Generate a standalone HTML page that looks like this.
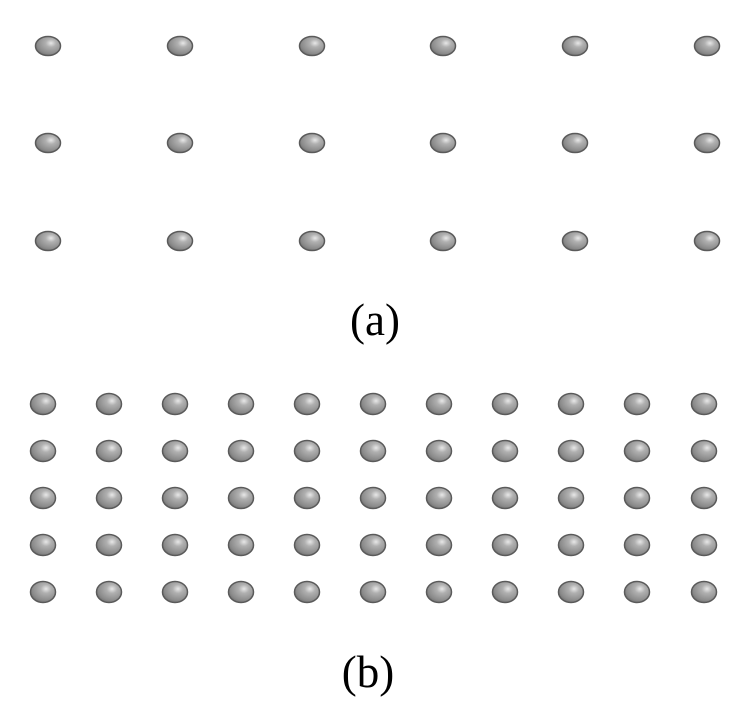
<!DOCTYPE html>
<html><head><style>html,body{margin:0;padding:0;background:#fff}svg{display:block}</style></head>
<body>
<svg width="752" height="710" viewBox="0 0 752 710" xmlns="http://www.w3.org/2000/svg">
<defs>
<radialGradient id="g" cx="0.62" cy="0.35" r="0.7">
<stop offset="0" stop-color="#e8e8e8"/>
<stop offset="0.3" stop-color="#b0b0b0"/>
<stop offset="0.8" stop-color="#8a8a8a"/>
<stop offset="1" stop-color="#707070"/>
</radialGradient>
</defs>
<text x="375" y="335" font-family="Liberation Serif, serif" font-size="45" text-anchor="middle">(a)</text>
<text x="368" y="687" font-family="Liberation Serif, serif" font-size="45" text-anchor="middle">(b)</text>
<g fill="url(#g)" stroke="#5a5a5a" stroke-width="1.5">
<ellipse cx="48" cy="46" rx="12.5" ry="9.5"/><ellipse cx="180" cy="46" rx="12.5" ry="9.5"/><ellipse cx="312" cy="46" rx="12.5" ry="9.5"/><ellipse cx="443" cy="46" rx="12.5" ry="9.5"/><ellipse cx="575" cy="46" rx="12.5" ry="9.5"/><ellipse cx="707" cy="46" rx="12.5" ry="9.5"/>
<ellipse cx="48" cy="143" rx="12.5" ry="9.5"/><ellipse cx="180" cy="143" rx="12.5" ry="9.5"/><ellipse cx="312" cy="143" rx="12.5" ry="9.5"/><ellipse cx="443" cy="143" rx="12.5" ry="9.5"/><ellipse cx="575" cy="143" rx="12.5" ry="9.5"/><ellipse cx="707" cy="143" rx="12.5" ry="9.5"/>
<ellipse cx="48" cy="241" rx="12.5" ry="9.5"/><ellipse cx="180" cy="241" rx="12.5" ry="9.5"/><ellipse cx="312" cy="241" rx="12.5" ry="9.5"/><ellipse cx="443" cy="241" rx="12.5" ry="9.5"/><ellipse cx="575" cy="241" rx="12.5" ry="9.5"/><ellipse cx="707" cy="241" rx="12.5" ry="9.5"/>
</g>
<g fill="url(#g)" stroke="#5a5a5a" stroke-width="1.5">
<g id="row"><ellipse cx="43" cy="404" rx="12.5" ry="10.5"/><ellipse cx="109" cy="404" rx="12.5" ry="10.5"/><ellipse cx="175" cy="404" rx="12.5" ry="10.5"/><ellipse cx="241" cy="404" rx="12.5" ry="10.5"/><ellipse cx="307" cy="404" rx="12.5" ry="10.5"/><ellipse cx="373" cy="404" rx="12.5" ry="10.5"/><ellipse cx="439" cy="404" rx="12.5" ry="10.5"/><ellipse cx="505" cy="404" rx="12.5" ry="10.5"/><ellipse cx="571" cy="404" rx="12.5" ry="10.5"/><ellipse cx="637" cy="404" rx="12.5" ry="10.5"/><ellipse cx="704" cy="404" rx="12.5" ry="10.5"/></g>
<use href="#row" y="47"/>
<use href="#row" y="94"/>
<use href="#row" y="141"/>
<use href="#row" y="188"/>
</g>
</svg>
</body></html>
